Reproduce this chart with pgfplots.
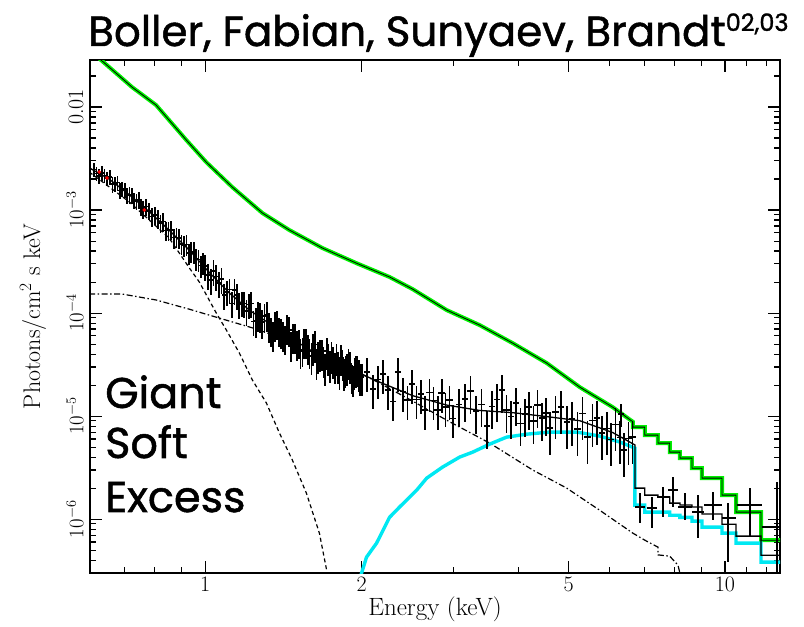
\documentclass[border=0pt]{standalone}
\usepackage{fontspec}
\usepackage{pgfplots}
\usepackage{pgfplotstable}
\pgfplotsset{compat=1.18}
\newfontfamily\comic[FakeBold=1.2]{Poppins}
\definecolor{specgreen}{RGB}{0,240,0}
\definecolor{speccyan}{RGB}{0,232,242}

\pgfplotstableread{
E F ey ex
0.61 2.47e-3 0.16 0.011
0.6175 2.27e-3 0.16 0.011
0.625 2.15e-3 0.16 0.011
0.6325 2.29e-3 0.16 0.011
0.64 2.17e-3 0.16 0.011
0.6475 2.02e-3 0.16 0.011
0.655 2.09e-3 0.16 0.011
0.6625 1.78e-3 0.17 0.011
0.67 1.79e-3 0.17 0.011
0.6775 1.85e-3 0.17 0.011
0.685 1.55e-3 0.17 0.011
0.6925 1.61e-3 0.17 0.011
0.70 1.58e-3 0.17 0.011
0.7075 1.39e-3 0.18 0.011
0.715 1.41e-3 0.18 0.011
0.7225 1.40e-3 0.18 0.011
0.73 1.24e-3 0.18 0.011
0.7375 1.22e-3 0.18 0.011
0.745 1.26e-3 0.19 0.011
0.7525 1.08e-3 0.19 0.011
0.76 1.02e-3 0.19 0.011
0.77 1.08e-3 0.19 0.011
0.78 9.78e-4 0.19 0.011
0.79 8.65e-4 0.20 0.011
0.80 8.90e-4 0.20 0.011
0.81 8.26e-4 0.20 0.011
0.82 7.46e-4 0.20 0.011
0.83 7.73e-4 0.21 0.011
0.84 6.33e-4 0.21 0.011
0.85 6.39e-4 0.21 0.011
0.86 6.43e-4 0.21 0.011
0.87 5.41e-4 0.22 0.011
0.88 5.43e-4 0.22 0.011
0.89 5.39e-4 0.22 0.011
0.90 4.68e-4 0.22 0.011
0.91 4.59e-4 0.23 0.011
0.92 4.63e-4 0.23 0.011
0.93 3.81e-4 0.23 0.011
0.94 3.96e-4 0.23 0.011
0.95 3.91e-4 0.24 0.011
0.96 3.38e-4 0.24 0.011
0.97 3.32e-4 0.24 0.011
0.98 2.89e-4 0.24 0.011
0.99 3.07e-4 0.24 0.011
1.000 2.86e-4 0.28 0.011
1.0125 2.33e-4 0.28 0.011
1.025 2.10e-4 0.28 0.011
1.0375 2.55e-4 0.28 0.011
1.05 2.27e-4 0.28 0.011
1.0625 1.96e-4 0.28 0.011
1.075 2.15e-4 0.28 0.011
1.0875 1.50e-4 0.28 0.011
1.10 1.61e-4 0.28 0.011
1.1125 1.69e-4 0.28 0.011
1.125 1.24e-4 0.28 0.011
1.1375 1.68e-4 0.28 0.011
1.15 1.50e-4 0.28 0.011
1.1625 1.22e-4 0.28 0.011
1.175 1.26e-4 0.28 0.011
1.1875 1.24e-4 0.28 0.011
1.20 1.05e-4 0.28 0.011
1.2125 1.21e-4 0.28 0.011
1.225 1.24e-4 0.28 0.011
1.2375 8.26e-5 0.28 0.011
1.25 8.43e-5 0.32 0.011
1.2625 9.71e-5 0.32 0.011
1.275 9.39e-5 0.32 0.011
1.2875 8.17e-5 0.32 0.011
1.30 9.32e-5 0.32 0.011
1.3125 9.65e-5 0.32 0.011
1.325 7.54e-5 0.32 0.011
1.3375 6.83e-5 0.32 0.011
1.35 6.17e-5 0.32 0.011
1.3625 7.72e-5 0.32 0.011
1.375 8.01e-5 0.32 0.011
1.3875 6.85e-5 0.32 0.011
1.40 6.65e-5 0.32 0.011
1.4125 6.17e-5 0.32 0.011
1.425 5.71e-5 0.32 0.011
1.4375 7.27e-5 0.32 0.011
1.45 6.87e-5 0.32 0.011
1.4625 4.96e-5 0.32 0.011
1.475 5.91e-5 0.32 0.011
1.4875 5.92e-5 0.32 0.011
1.50 5.04e-5 0.32 0.011
1.5125 5.22e-5 0.32 0.011
1.525 4.26e-5 0.32 0.011
1.5375 4.37e-5 0.32 0.011
1.55 5.32e-5 0.32 0.011
1.5625 5.32e-5 0.32 0.011
1.575 4.65e-5 0.32 0.011
1.5875 4.26e-5 0.32 0.011
1.60 3.83e-5 0.34 0.011
1.6125 4.63e-5 0.34 0.011
1.625 4.97e-5 0.34 0.011
1.6375 3.37e-5 0.34 0.011
1.65 3.90e-5 0.34 0.011
1.6625 4.07e-5 0.34 0.011
1.675 4.12e-5 0.34 0.011
1.6875 3.53e-5 0.34 0.011
1.70 2.98e-5 0.34 0.011
1.7125 4.28e-5 0.34 0.011
1.725 3.72e-5 0.34 0.011
1.7375 3.19e-5 0.34 0.011
1.75 3.92e-5 0.34 0.011
1.7625 3.49e-5 0.34 0.011
1.775 3.08e-5 0.34 0.011
1.7875 3.72e-5 0.34 0.011
1.80 3.13e-5 0.34 0.011
1.8125 2.69e-5 0.34 0.011
1.825 3.68e-5 0.34 0.011
1.8375 3.30e-5 0.34 0.011
1.85 2.66e-5 0.34 0.011
1.8625 2.84e-5 0.34 0.011
1.875 2.97e-5 0.34 0.011
1.8875 3.36e-5 0.34 0.011
1.90 3.10e-5 0.34 0.011
1.9125 2.46e-5 0.34 0.011
1.925 2.31e-5 0.34 0.011
1.9375 2.73e-5 0.34 0.011
1.95 2.85e-5 0.34 0.011
1.9625 2.89e-5 0.34 0.011
1.975 2.61e-5 0.34 0.011
1.9875 2.39e-5 0.34 0.011
2.00 2.40e-5 0.34 0.011
2.05 2.68e-5 0.36 0.014
2.10 1.84e-5 0.36 0.014
2.15 2.27e-5 0.36 0.014
2.20 2.57e-5 0.36 0.014
2.25 1.80e-5 0.36 0.014
2.30 1.39e-5 0.36 0.014
2.35 2.70e-5 0.36 0.014
2.40 1.73e-5 0.36 0.014
2.45 1.44e-5 0.36 0.014
2.50 2.04e-5 0.36 0.014
2.55 1.45e-5 0.36 0.014
2.60 1.63e-5 0.36 0.014
2.65 1.14e-5 0.36 0.014
2.70 1.70e-5 0.36 0.014
2.75 1.42e-5 0.36 0.014
2.80 1.14e-5 0.36 0.014
2.85 1.67e-5 0.36 0.014
2.90 1.23e-5 0.36 0.014
2.95 1.44e-5 0.36 0.014
3.00 9.48e-6 0.36 0.014
3.08 1.30e-5 0.40 0.014
3.16 1.46e-5 0.40 0.014
3.24 1.75e-5 0.40 0.014
3.32 1.12e-5 0.40 0.014
3.40 1.30e-5 0.40 0.014
3.48 8.00e-6 0.40 0.014
3.56 1.24e-5 0.40 0.014
3.64 1.45e-5 0.40 0.014
3.72 1.80e-5 0.40 0.014
3.80 1.14e-5 0.40 0.014
3.88 9.94e-6 0.40 0.014
3.96 1.33e-5 0.40 0.014
4.04 8.50e-6 0.40 0.014
4.12 1.05e-5 0.40 0.014
4.20 1.22e-5 0.40 0.014
4.28 8.94e-6 0.40 0.014
4.36 1.28e-5 0.40 0.014
4.44 9.56e-6 0.40 0.014
4.52 1.08e-5 0.40 0.014
4.60 7.64e-6 0.45 0.014
4.72 1.09e-5 0.45 0.014
4.84 1.22e-5 0.45 0.014
4.96 8.73e-6 0.45 0.014
5.08 9.41e-6 0.45 0.014
5.20 7.48e-6 0.45 0.014
5.32 1.06e-5 0.45 0.014
5.44 6.23e-6 0.45 0.014
5.56 9.05e-6 0.45 0.014
5.68 9.56e-6 0.45 0.014
5.80 6.89e-6 0.45 0.014
5.92 7.58e-6 0.45 0.014
6.04 5.93e-6 0.45 0.014
6.16 8.30e-6 0.45 0.014
6.28 6.19e-6 0.45 0.014
6.30 1.05e-5 0.25 0.014
6.40 4.68e-6 0.45 0.014
6.52 6.07e-6 0.45 0.014
6.64 6.23e-6 0.45 0.014
}\lowdata

\pgfplotstableread{
E F xm xp ym yp
6.86 1.31e-6 0.15 0.15 0.396e-6 0.48e-6
7.23 1.28e-6 0.16 0.17 0.46e-6 0.36e-6
7.60 1.64e-6 0.20 0.23 0.60e-6 0.41e-6
7.94 1.91e-6 0.17 0.18 0.60e-6 0.65e-6
8.37 1.31e-6 0.25 0.27 0.333e-6 0.48e-6
8.87 1.17e-6 0.23 0.25 0.515e-6 0.54e-6
9.48 1.37e-6 0.36 0.39 0.393e-6 0.46e-6
10.13 1.02e-6 0.26 0.37 0.637e-6 0.41e-6
11.17 1.37e-6 0.62 0.60 0.702e-6 0.63e-6
12.60 8.36e-7 0.83 0.30 0.531e-6 1.454e-6
}\hidata

\begin{document}
\begin{tikzpicture}
\path[use as bounding box] (-90pt,-54pt) rectangle (714pt,573pt);
\begin{axis}[
  at={(0pt,0pt)}, anchor=south west,
  scale only axis, width=690pt, height=513pt,
  xmode=log, ymode=log,
  xmin=0.6, xmax=12.76, ymin=3e-7, ymax=0.0286,
  axis line style={line width=1.3pt},
  every tick/.style={black, line width=1.1pt},
  major tick length=12pt, minor tick length=6pt,
  tick align=inside,
  xtick={1,2,5,10}, xticklabels={1,2,5,10},
  minor xtick={0.6,0.7,0.8,0.9,3,4,6,7,8,9,11,12},
  ytick={1e-6,1e-5,1e-4,1e-3,1e-2},
  yticklabels={$10^{-6}$,$10^{-5}$,$10^{-4}$,$10^{-3}$,0.01},
  minor ytick={4e-7,5e-7,6e-7,7e-7,8e-7,9e-7,2e-6,3e-6,4e-6,5e-6,6e-6,7e-6,8e-6,9e-6,2e-5,3e-5,4e-5,5e-5,6e-5,7e-5,8e-5,9e-5,2e-4,3e-4,4e-4,5e-4,6e-4,7e-4,8e-4,9e-4,2e-3,3e-3,4e-3,5e-3,6e-3,7e-3,8e-3,9e-3,2e-2},
  xticklabel style={font=\fontsize{22}{22}\selectfont},
  yticklabel style={font=\fontsize{22}{22}\selectfont, xshift=-3pt, rotate=90, anchor=south},
  xlabel={Energy (keV)},
  ylabel={Photons/cm$^2$ s keV},
  xlabel style={font=\fontsize{25}{25}\selectfont, at={(axis description cs:0.5,-0.0702)}, anchor=center},
  ylabel style={font=\fontsize{24}{24}\selectfont, at={(axis description cs:-0.0826,0.5)}, anchor=center},
]
% upper spectrum: model (green) and data histogram (black)
\addplot[specgreen, line width=4pt] coordinates {
(0.620,0.0306) (0.630,0.0286) (0.723,0.0156) (0.804,0.01045) (0.919,0.00479)
(1.004,0.00292) (1.127,0.00167) (1.288,9.35e-4) (1.451,6.40e-4) (1.680,4.28e-4)
(1.954,3.05e-4) (2.262,2.24e-4) (2.505,1.71e-4) (2.913,1.07e-4) (3.373,7.64e-5)
(3.904,5.11e-5) (4.54,3.27e-5) (5.255,1.91e-5) (6.083,1.22e-5) (6.65,8.8e-6)
(6.65,7.82e-6) (7.01,7.82e-6) (7.01,6.54e-6) (7.43,6.54e-6) (7.43,5.47e-6)
(7.83,5.47e-6) (7.83,4.47e-6) (8.19,4.47e-6) (8.19,3.91e-6) (8.64,3.91e-6)
(8.64,3.12e-6) (9.03,3.12e-6) (9.03,2.50e-6) (9.87,2.50e-6) (9.87,1.71e-6)
(10.5,1.71e-6) (10.5,1.17e-6) (11.73,1.17e-6) (11.73,6.25e-7) (12.76,6.25e-7)};
\addplot[black, line width=0.8pt] coordinates {
(0.620,0.0306) (0.630,0.0286) (0.723,0.0156) (0.804,0.01045) (0.919,0.00479)
(1.004,0.00292) (1.127,0.00167) (1.288,9.35e-4) (1.451,6.40e-4) (1.680,4.28e-4)
(1.954,3.05e-4) (2.262,2.24e-4) (2.505,1.71e-4) (2.913,1.07e-4) (3.373,7.64e-5)
(3.904,5.11e-5) (4.54,3.27e-5) (5.255,1.91e-5) (6.083,1.22e-5) (6.65,8.8e-6)
(6.65,7.82e-6) (7.01,7.82e-6) (7.01,6.54e-6) (7.43,6.54e-6) (7.43,5.47e-6)
(7.83,5.47e-6) (7.83,4.47e-6) (8.19,4.47e-6) (8.19,3.91e-6) (8.64,3.91e-6)
(8.64,3.12e-6) (9.03,3.12e-6) (9.03,2.50e-6) (9.87,2.50e-6) (9.87,1.71e-6)
(10.5,1.71e-6) (10.5,1.17e-6) (11.73,1.17e-6) (11.73,6.25e-7) (12.76,6.25e-7)};
% power law (dash-dot)
\addplot[black, line width=1.2pt, dash pattern=on 6pt off 2.5pt on 1.5pt off 2.5pt] coordinates {
(0.598,1.53e-4) (0.692,1.53e-4) (0.804,1.34e-4) (0.932,1.09e-4) (1.064,8.94e-5)
(1.254,7.0e-5) (1.451,5.35e-5) (1.608,4.28e-5) (1.869,3.06e-5) (2.164,2.09e-5)
(2.505,1.40e-5) (2.913,9.14e-6) (3.526,5.47e-6) (4.27,2.99e-6) (4.96,2.0e-6)
(5.74,1.22e-6) (6.65,7.31e-7) (7.01,6.25e-7) (7.43,5.35e-7) (7.43,4.5e-7)
(7.83,4.37e-7) (8.12,3.57e-7) (8.19,3.0e-7) (8.25,2.7e-7)};
% soft excess (dashed)
\addplot[black, line width=1.2pt, dash pattern=on 4pt off 3pt] coordinates {
(0.598,2.34e-3) (0.714,1.20e-3) (0.852,5.35e-4) (0.932,2.74e-4) (0.974,2.0e-4)
(1.050,1.0e-4) (1.098,6.84e-5) (1.163,4.09e-5) (1.232,2.24e-5) (1.311,1.34e-5)
(1.389,6.84e-6) (1.471,3.74e-6) (1.565,1.79e-6) (1.658,7.31e-7) (1.712,3.2e-7)
(1.72,2.5e-7)};
% absorbed / reflection component (cyan)
\addplot[speccyan, line width=3.4pt] coordinates {
(1.995,2.9e-7) (2.043,4.28e-7) (2.136,5.85e-7) (2.262,1.04e-6) (2.365,1.31e-6)
(2.551,1.91e-6) (2.667,2.50e-6) (2.861,3.20e-6) (3.086,4.0e-6) (3.270,4.47e-6)
(3.526,5.35e-6) (3.80,6.25e-6) (4.155,6.68e-6) (4.60,7.0e-6) (5.186,7.0e-6)
(5.74,6.40e-6) (6.28,5.60e-6) (6.71,4.89e-6)
(6.71,1.37e-6) (7.01,1.37e-6) (7.01,1.17e-6) (7.83,1.17e-6) (7.83,1.09e-6)
(8.19,1.09e-6) (8.19,1.04e-6) (8.64,1.04e-6) (8.64,9.57e-7) (9.03,9.57e-7)
(9.03,8.36e-7) (9.87,8.36e-7) (9.87,7.31e-7) (10.5,7.31e-7) (10.5,5.85e-7)
(11.73,5.85e-7) (11.73,3.83e-7) (12.76,3.83e-7)};
% lower spectrum data
\addplot[black, only marks, mark=text, text mark={},
  error bars/.cd, y dir=both, y explicit relative, x dir=both, x explicit relative,
  error mark=none, error bar style={line width=1.7pt, black, solid}]
  table[x=E, y=F, y error=ey, x error=ex] {\lowdata};
\addplot[black, only marks, mark=text, text mark={},
  error bars/.cd, y dir=both, y explicit, x dir=both, x explicit,
  error mark=none, error bar style={line width=1.5pt, black, solid}]
  table[x=E, y=F, x error plus=xp, x error minus=xm, y error plus=yp, y error minus=ym] {\hidata};
% lower spectrum total model
\addplot[black, line width=1.3pt] coordinates {
(0.598,2.57e-3) (0.653,2.00e-3) (0.714,1.41e-3) (0.780,9.66e-4) (0.852,6.38e-4)
(0.932,4.07e-4) (1.018,2.48e-4) (1.112,1.57e-4) (1.215,1.07e-4) (1.328,7.94e-5)
(1.451,5.89e-5) (1.608,4.22e-5) (1.869,2.95e-5) (2.164,2.14e-5) (2.505,1.58e-5)
(2.913,1.28e-5) (3.373,1.135e-5) (3.904,1.08e-5) (4.54,9.89e-6) (5.255,9.02e-6)
(6.083,6.92e-6) (6.71,5.25e-6)
(6.71,2.0e-6) (7.01,2.0e-6) (7.01,1.71e-6) (7.43,1.71e-6) (7.43,1.64e-6)
(7.83,1.64e-6) (7.83,1.43e-6) (8.19,1.43e-6) (8.19,1.37e-6) (8.64,1.37e-6)
(8.64,1.31e-6) (9.03,1.31e-6) (9.03,1.12e-6) (9.87,1.12e-6) (9.87,8.94e-7)
(10.5,8.94e-7) (10.5,6.84e-7) (11.73,6.84e-7) (11.73,4.47e-7) (12.76,4.47e-7)};
% second data set (red)
\addplot[red, only marks, mark=*, mark size=1.6pt] coordinates {
(0.625,2.34e-3) (0.647,2.05e-3) (0.763,1.0e-3)};
\end{axis}
\node[anchor=base west, inner sep=0pt, font=\comic\fontsize{42}{42}\selectfont]
  at (-2pt,527pt) {Boller, Fabian, Sunyaev, Brandt\raisebox{15pt}{\fontsize{24}{24}\selectfont 02,03}};
\node[anchor=base west, inner sep=0pt, font=\comic\fontsize{43}{43}\selectfont] at (15pt,165pt) {Giant};
\node[anchor=base west, inner sep=0pt, font=\comic\fontsize{43}{43}\selectfont] at (15pt,115pt) {Soft};
\node[anchor=base west, inner sep=0pt, font=\comic\fontsize{43}{43}\selectfont] at (15pt,61pt) {Excess};
\end{tikzpicture}
\end{document}
